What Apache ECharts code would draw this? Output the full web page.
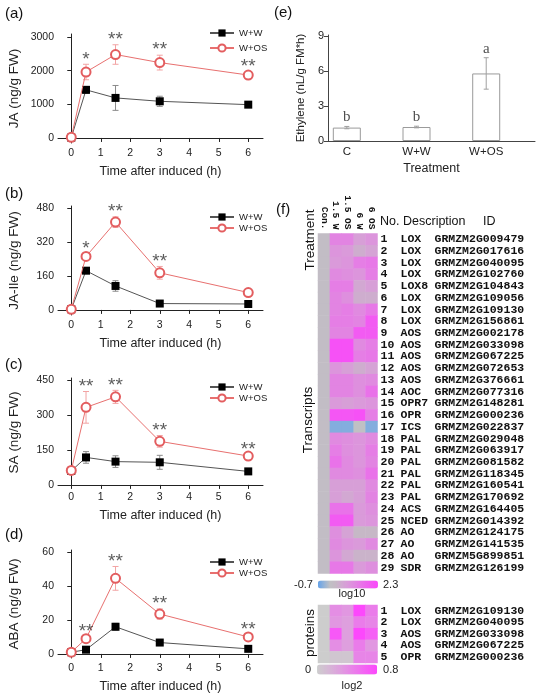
<!DOCTYPE html>
<html>
<head>
<meta charset="utf-8">
<script src="https://cdn.jsdelivr.net/npm/echarts@6/dist/echarts.min.js"></script>
<style>
html,body{margin:0;padding:0;background:#fff}
#chart{width:550px;height:700px}
</style>
</head>
<body>
<div id="chart"></div>
<script>
// time course panels (a)-(d)
var timePoints = [0, 0.5, 1.5, 3, 6];
var timeTicks = [0, 1, 2, 3, 4, 5, 6];

var jaWW = [10, 1430, 1190, 1090, 990];
var jaWWErr = [20, 100, 370, 150, 60];
var jaOS = [20, 1960, 2480, 2240, 1870];
var jaOSErr = [20, 230, 290, 220, 100];
var jaStars = ['', '*', '**', '**', '**'];
var jaTicks = [0, 1000, 2000, 3000];

var jaIleWW = [3, 185, 113, 30, 28];
var jaIleWWErr = [3, 10, 25, 5, 4];
var jaIleOS = [3, 252, 414, 175, 82];
var jaIleOSErr = [3, 15, 25, 30, 8];
var jaIleStars = ['', '*', '**', '**', ''];
var jaIleTicks = [0, 160, 320, 480];

var saWW = [60, 118, 100, 97, 58];
var saWWErr = [5, 25, 25, 30, 5];
var saOS = [62, 333, 378, 187, 124];
var saOSErr = [5, 68, 28, 25, 6];
var saStars = ['', '**', '**', '**', '**'];
var saTicks = [0, 150, 300, 450];

var abaWW = [1, 2.5, 16, 6.7, 3];
var abaWWErr = [0.3, 0.5, 2, 0.8, 0.5];
var abaOS = [1, 9, 44.5, 23.5, 10];
var abaOSErr = [0.3, 1, 7, 3, 1];
var abaStars = ['', '**', '**', '**', '**'];
var abaTicks = [0, 20, 40, 60];

// ethylene panel (e)
var ethCats = ['C', 'W+W', 'W+OS'];
var ethVals = [1.15, 1.2, 5.8];
var ethErr = [0.1, 0.07, 1.35];
var ethLetters = ['b', 'b', 'a'];
var ethTicks = [0, 3, 6, 9];

// heatmap panel (f)
var treatLabels = ['Con.', '1.5 W', '1.5 OS', '6 W', '6 OS'];
var transDesc = ['LOX','LOX','LOX','LOX','LOX8','LOX','LOX','LOX','AOS','AOS','AOS','AOS','AOS','AOC','OPR7',
  'OPR','ICS','PAL','PAL','PAL','PAL','PAL','PAL','ACS','NCED','AO','AO','AO','SDR'];
var transId = ['GRMZM2G009479','GRMZM2G017616','GRMZM2G040095','GRMZM2G102760','GRMZM2G104843','GRMZM2G109056',
  'GRMZM2G109130','GRMZM2G156861','GRMZM2G002178','GRMZM2G033098','GRMZM2G067225','GRMZM2G072653','GRMZM2G376661',
  'GRMZM2G077316','GRMZM2G148281','GRMZM2G000236','GRMZM2G022837','GRMZM2G029048','GRMZM2G063917','GRMZM2G081582',
  'GRMZM2G118345','GRMZM2G160541','GRMZM2G170692','GRMZM2G164405','GRMZM2G014392','GRMZM2G124175','GRMZM2G141535',
  'GRMZM5G899851','GRMZM2G126199'];
var tCon  = [0,0,0,0,0,0,0,0,0,0,0,0,0,0,0,0,0,0,0,0,0,0,0,0,0,0,0,0,0];
var t15W  = [1.2,0.9,0.8,1.1,1.3,1.2,1.2,1.3,1.2,2.1,2.1,0.9,1.2,1.2,0.8,2.0,-0.5,1.1,1.3,1.5,1.1,0.7,0.7,1.5,1.9,1.0,1.1,0.9,1.4];
var t15OS = [1.2,0.8,0.9,1.0,1.3,1.0,1.3,1.3,1.2,2.1,2.1,0.7,1.2,1.2,0.7,2.0,-0.5,1.0,1.0,1.1,1.1,0.7,0.5,1.5,1.9,0.6,0.9,0.5,1.4];
var t6W   = [0.7,0.4,1.3,0.9,0.5,0.4,1.1,1.2,1.9,1.1,1.3,0.4,1.0,1.0,0.8,2.1,-0.1,0.9,0.9,0.9,1.0,0.7,0.7,0.8,0.8,0.2,0.8,0.3,0.8];
var t6OS  = [0.9,0.6,1.4,1.3,0.7,0.4,1.4,1.9,1.9,1.3,1.4,0.6,1.1,1.5,0.9,1.3,-0.5,1.1,1.3,1.2,1.5,1.1,1.2,1.0,0.9,0.2,1.1,0.3,1.0];

var protDesc = ['LOX', 'LOX', 'AOS', 'AOS', 'OPR'];
var protId = ['GRMZM2G109130', 'GRMZM2G040095', 'GRMZM2G033098', 'GRMZM2G067225', 'GRMZM2G000236'];
var pCon  = [0, 0, 0, 0, 0];
var p15W  = [0.4, 0.35, 0.7, 0.4, 0.05];
var p15OS = [0.35, 0.3, 0.3, 0.3, 0.05];
var p6W   = [0.8, 0.5, 0.8, 0.5, 0.45];
var p6OS  = [0.5, 0.45, 0.65, 0.35, 0.45];

var sans = 'Liberation Sans, Arial, sans-serif';
var mono = 'Liberation Mono, Courier New, monospace';
var axisCol = '#222';

var panels = [
  {tag: '(a)', tagTop: 6, name: 'JA (ng/g FW)', ww: jaWW, wwErr: jaWWErr, os: jaOS, osErr: jaOSErr, stars: jaStars, ticks: jaTicks, min: -150, max: 3090, top: 34, h: 109, legTop: 28, legGap: 5},
  {tag: '(b)', tagTop: 186, name: 'JA-Ile (ng/g FW)', ww: jaIleWW, wwErr: jaIleWWErr, os: jaIleOS, osErr: jaIleOSErr, stars: jaIleStars, ticks: jaIleTicks, min: -24, max: 490, top: 206, h: 109, legTop: 212, legGap: 1},
  {tag: '(c)', tagTop: 357, name: 'SA (ng/g FW)', ww: saWW, wwErr: saWWErr, os: saOS, osErr: saOSErr, stars: saStars, ticks: saTicks, min: -9, max: 459, top: 378, h: 109, legTop: 382, legGap: 1},
  {tag: '(d)', tagTop: 527, name: 'ABA (ng/g FW)', ww: abaWW, wwErr: abaWWErr, os: abaOS, osErr: abaOSErr, stars: abaStars, ticks: abaTicks, min: -2.4, max: 61.2, top: 550, h: 108, legTop: 557, legGap: 1}
];

function zip(xs, ys, es) {
  return xs.map(function (x, k) { return es ? [x, ys[k], es[k]] : [x, ys[k]]; });
}

function errRender(color, cap) {
  return function (params, api) {
    var x = api.value(0), y = api.value(1), e = api.value(2);
    var hi = api.coord([x, y + e]), lo = api.coord([x, y - e]);
    var st = {stroke: color, lineWidth: 1};
    return {type: 'group', children: [
      {type: 'line', shape: {x1: hi[0], y1: hi[1], x2: lo[0], y2: lo[1]}, style: st},
      {type: 'line', shape: {x1: hi[0] - cap, y1: hi[1], x2: hi[0] + cap, y2: hi[1]}, style: st},
      {type: 'line', shape: {x1: lo[0] - cap, y1: lo[1], x2: lo[0] + cap, y2: lo[1]}, style: st}
    ]};
  };
}

function plain(v) { return String(v); }

var grids = [], xAxes = [], yAxes = [], series = [], legends = [], graphics = [];

panels.forEach(function (p, i) {
  grids.push({left: 58, top: p.top, width: 205, height: p.h});
  xAxes.push({
    gridIndex: i, type: 'value', min: -0.45, max: 6.5,
    axisLine: {lineStyle: {color: axisCol}},
    axisTick: {customValues: timeTicks, length: 4, lineStyle: {color: axisCol}},
    axisLabel: {customValues: timeTicks, formatter: plain, fontSize: 10.5, color: axisCol, margin: 5, fontFamily: sans},
    splitLine: {show: false},
    name: 'Time after induced (h)', nameLocation: 'middle', nameGap: 22,
    nameTextStyle: {fontSize: 12.5, color: axisCol, fontFamily: sans}
  });
  yAxes.push({
    gridIndex: i, type: 'value', min: p.min, max: p.max,
    axisLine: {show: true, lineStyle: {color: axisCol}},
    axisTick: {show: true, customValues: p.ticks, length: 4, lineStyle: {color: axisCol}},
    axisLabel: {customValues: p.ticks, formatter: plain, fontSize: 10.5, color: axisCol, margin: 4, fontFamily: sans},
    splitLine: {show: false},
    name: p.name, nameLocation: 'middle', nameGap: 37, nameRotate: 90,
    nameTextStyle: {fontSize: 13.5, color: axisCol, fontFamily: sans}
  });
  series.push({
    type: 'custom', xAxisIndex: i, yAxisIndex: i, renderItem: errRender('#8a8a8a', 3),
    data: zip(timePoints, p.ww, p.wwErr), encode: {x: 0, y: 1}, z: 1, silent: true
  });
  series.push({
    type: 'custom', xAxisIndex: i, yAxisIndex: i, renderItem: errRender('#f2a3a3', 3),
    data: zip(timePoints, p.os, p.osErr), encode: {x: 0, y: 1}, z: 1, silent: true
  });
  series.push({
    name: 'W+W', type: 'line', xAxisIndex: i, yAxisIndex: i,
    data: zip(timePoints, p.ww), symbol: 'rect', symbolSize: 8,
    itemStyle: {color: '#000'}, lineStyle: {color: '#555', width: 1}, z: 3
  });
  series.push({
    name: 'W+OS', type: 'line', xAxisIndex: i, yAxisIndex: i,
    data: zip(timePoints, p.os), symbol: 'emptyCircle', symbolSize: 9,
    itemStyle: {color: '#e35d5f', borderWidth: 1.2}, lineStyle: {color: '#e8706f', width: 1}, z: 4
  });
  var starData = [];
  timePoints.forEach(function (t, k) {
    if (p.stars[k]) starData.push([t, p.os[k] + p.osErr[k], p.stars[k]]);
  });
  series.push({
    type: 'scatter', xAxisIndex: i, yAxisIndex: i, data: starData, symbolSize: 1,
    itemStyle: {color: 'rgba(0,0,0,0)'}, silent: true, z: 5,
    label: {show: true, position: 'top', distance: -5, formatter: function (q) { return q.value[2]; },
      fontSize: 19, color: '#333', fontFamily: sans}
  });
  legends.push({
    data: ['W+W', 'W+OS'], left: 209, top: p.legTop, orient: 'vertical', itemGap: p.legGap,
    itemWidth: 24, itemHeight: 9, padding: 0, selectedMode: false,
    textStyle: {fontSize: 9.5, color: axisCol, fontFamily: sans}
  });
  graphics.push({type: 'text', left: 5, top: p.tagTop, style: {text: p.tag, font: '15px ' + sans, fill: '#111'}});
});

// (e) ethylene bars
var eIdx = grids.length;
grids.push({left: 328, top: 35, width: 207, height: 106});
xAxes.push({
  gridIndex: eIdx, type: 'value', min: 0.73, max: 3.7,
  axisLine: {lineStyle: {color: '#444'}}, axisTick: {show: false},
  axisLabel: {customValues: [1, 2, 3], formatter: function (v) { return ethCats[v - 1]; },
    fontSize: 11.5, color: axisCol, margin: 5, fontFamily: sans},
  splitLine: {show: false},
  name: 'Treatment', nameLocation: 'middle', nameGap: 21,
  nameTextStyle: {fontSize: 12.5, color: axisCol, fontFamily: sans}
});
yAxes.push({
  gridIndex: eIdx, type: 'value', min: 0, max: 9.1,
  axisLine: {show: true, lineStyle: {color: '#444'}},
  axisTick: {show: true, customValues: ethTicks, length: 4, lineStyle: {color: '#444'}},
  axisLabel: {customValues: ethTicks, formatter: plain, fontSize: 11, color: axisCol, margin: 4, fontFamily: sans},
  splitLine: {show: false},
  name: 'Ethylene (nL/g FM*h)', nameLocation: 'middle', nameGap: 21, nameRotate: 90,
  nameTextStyle: {fontSize: 11.5, color: axisCol, fontFamily: sans}
});
series.push({
  type: 'bar', xAxisIndex: eIdx, yAxisIndex: eIdx, barWidth: 28,
  data: zip([1, 2, 3], ethVals),
  itemStyle: {color: '#fff', borderColor: '#9a9a9a', borderWidth: 1}, z: 2
});
series.push({
  type: 'custom', xAxisIndex: eIdx, yAxisIndex: eIdx, renderItem: errRender('#a0a0a0', 2.5),
  data: zip([1, 2, 3], ethVals, ethErr), encode: {x: 0, y: 1}, z: 3, silent: true
});
series.push({
  type: 'scatter', xAxisIndex: eIdx, yAxisIndex: eIdx, symbolSize: 1, itemStyle: {color: 'rgba(0,0,0,0)'}, silent: true,
  data: [1, 2, 3].map(function (x, k) { return [x, ethVals[k] + ethErr[k], ethLetters[k]]; }),
  label: {show: true, position: 'top', distance: 1, formatter: function (q) { return q.value[2]; },
    fontSize: 15, color: '#222', fontFamily: 'Liberation Serif, Times New Roman, serif'}
});
graphics.push({type: 'text', left: 274, top: 5, style: {text: '(e)', font: '15px ' + sans, fill: '#111'}});

// (f) heatmaps
var rowRich = {
  n: {width: 20, fontSize: 11.5, fontFamily: mono, fontWeight: 'bold', color: '#111'},
  d: {width: 34, fontSize: 11.5, fontFamily: mono, fontWeight: 'bold', color: '#111'},
  i: {fontSize: 11.5, fontFamily: mono, fontWeight: 'bold', color: '#111'}
};
function cells(cols) {
  var out = [];
  cols.forEach(function (col, c) {
    col.forEach(function (v, r) { out.push([c, r, v]); });
  });
  return out;
}

var tIdx = grids.length;
grids.push({left: 318, top: 233.5, width: 59.5, height: 340});
xAxes.push({
  gridIndex: tIdx, type: 'category', data: treatLabels, position: 'top',
  axisLine: {show: false}, axisTick: {show: false}, splitLine: {show: false},
  axisLabel: {rotate: 90, interval: 0, margin: 4, fontSize: 9.5, fontFamily: mono, fontWeight: 'bold', color: '#111'}
});
yAxes.push({
  gridIndex: tIdx, type: 'category', data: transId.map(function (d, k) { return String(k + 1); }),
  position: 'right', inverse: true,
  axisLine: {show: false}, axisTick: {show: false}, splitLine: {show: false},
  axisLabel: {interval: 0, margin: 3, rich: rowRich,
    formatter: function (v, k) { return '{n|' + v + '}{d|' + transDesc[k] + '}{i|' + transId[k] + '}'; }}
});
var tSeries = series.length;
series.push({
  type: 'heatmap', xAxisIndex: tIdx, yAxisIndex: tIdx, silent: true,
  data: cells([tCon, t15W, t15OS, t6W, t6OS])
});

var pIdx = grids.length;
grids.push({left: 318, top: 605, width: 59.5, height: 58});
xAxes.push({
  gridIndex: pIdx, type: 'category', data: treatLabels,
  axisLine: {show: false}, axisTick: {show: false}, axisLabel: {show: false}, splitLine: {show: false}
});
yAxes.push({
  gridIndex: pIdx, type: 'category', data: protId.map(function (d, k) { return String(k + 1); }),
  position: 'right', inverse: true,
  axisLine: {show: false}, axisTick: {show: false}, splitLine: {show: false},
  axisLabel: {interval: 0, margin: 3, rich: rowRich,
    formatter: function (v, k) { return '{n|' + v + '}{d|' + protDesc[k] + '}{i|' + protId[k] + '}'; }}
});
var pSeries = series.length;
series.push({
  type: 'heatmap', xAxisIndex: pIdx, yAxisIndex: pIdx, silent: true,
  data: cells([pCon, p15W, p15OS, p6W, p6OS])
});

graphics.push(
  {type: 'text', left: 276, top: 202, style: {text: '(f)', font: '15px ' + sans, fill: '#111'}},
  {type: 'text', x: 310, y: 240, rotation: Math.PI / 2, style: {text: 'Treatment', font: '13.5px ' + sans, fill: '#111', align: 'center', verticalAlign: 'middle'}},
  {type: 'text', x: 308, y: 420, rotation: Math.PI / 2, style: {text: 'Transcripts', font: '13.5px ' + sans, fill: '#111', align: 'center', verticalAlign: 'middle'}},
  {type: 'text', x: 310, y: 633, rotation: Math.PI / 2, style: {text: 'proteins', font: '13.5px ' + sans, fill: '#111', align: 'center', verticalAlign: 'middle'}},
  {type: 'text', x: 380, y: 222, style: {text: 'No.', font: '12.5px ' + sans, fill: '#111', verticalAlign: 'middle'}},
  {type: 'text', x: 403, y: 222, style: {text: 'Description', font: '12.5px ' + sans, fill: '#111', verticalAlign: 'middle'}},
  {type: 'text', x: 483, y: 222, style: {text: 'ID', font: '12.5px ' + sans, fill: '#111', verticalAlign: 'middle'}},
  {type: 'text', x: 352, y: 594, style: {text: 'log10', font: '11px ' + sans, fill: '#222', align: 'center', verticalAlign: 'middle'}},
  {type: 'text', x: 352, y: 686, style: {text: 'log2', font: '11px ' + sans, fill: '#222', align: 'center', verticalAlign: 'middle'}}
);

var chart = echarts.init(document.getElementById('chart'));
chart.setOption({
  animation: false,
  backgroundColor: '#fff',
  grid: grids,
  xAxis: xAxes,
  yAxis: yAxes,
  legend: legends,
  graphic: graphics,
  visualMap: [
    {type: 'continuous', seriesIndex: tSeries, min: -0.7, max: 2.3, orient: 'horizontal',
      left: 294, top: 579, itemWidth: 8, itemHeight: 60, padding: 0, textGap: 5,
      text: ['2.3', '-0.7'], calculable: false, hoverLink: false,
      textStyle: {fontSize: 11, color: '#222', fontFamily: sans},
      inRange: {color: ['#64a2ea', '#93b3d8', '#c0c0c4', '#c6b8c6', '#d2a8d2', '#da9ada', '#e08ae0',
        '#e778e7', '#ed66ed', '#f456f4', '#fb48fb']}},
    {type: 'continuous', seriesIndex: pSeries, min: 0, max: 0.8, orient: 'horizontal',
      left: 305, top: 664, itemWidth: 10, itemHeight: 60, padding: 0, textGap: 6,
      text: ['0.8', '0'], calculable: false, hoverLink: false,
      textStyle: {fontSize: 11, color: '#222', fontFamily: sans},
      inRange: {color: ['#cdcdcd', '#d6b6d6', '#df9cdf', '#e980e9', '#f462f4', '#fc48fc']}}
  ],
  series: series
});
</script>
</body>
</html>
